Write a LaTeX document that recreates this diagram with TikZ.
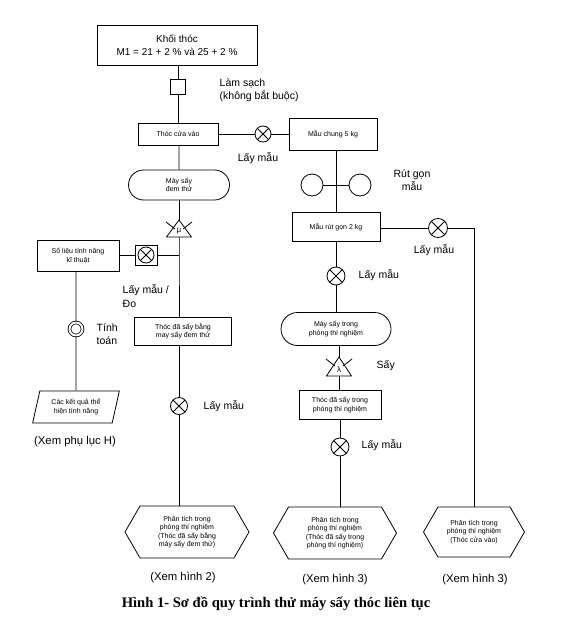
\documentclass[tikz,border=0pt]{standalone}
\usepackage{fontspec}
\setmainfont{Liberation Sans}
\newfontfamily\capfont{Liberation Serif}
\usetikzlibrary{shapes.geometric,shapes.misc,shapes.symbols}

\tikzset{
  small/.style={font=\fontsize{7}{8.5}\selectfont, align=center},
  stepbox/.style={draw, rectangle, small, inner sep=1pt},
  dryer/.style={draw, rounded rectangle, small, inner sep=1pt},
  lab/.style={font=\fontsize{10.5}{13.5}\selectfont, align=left},
  xemref/.style={font=\fontsize{11.3}{13}\selectfont},
  sample/.style={draw, circle, inner sep=0pt, minimum size=#1,
    path picture={\draw (path picture bounding box.north west) -- (path picture bounding box.south east)
      (path picture bounding box.south west) -- (path picture bounding box.north east);}},
  sample/.default=16pt,
  analysis/.style={draw, signal, signal to=west and east, signal pointer angle=120, small, inner sep=1pt},
}

\begin{document}
\begin{tikzpicture}[x=1pt,y=-1pt,line width=0.8pt]
    \useasboundingbox (0,0) rectangle (560,621);

    % cot thu nghiem
    \node[stepbox, minimum width=160pt, minimum height=40pt, font=\fontsize{10}{13}\selectfont] (khoi) at (177,45) {Khối thóc\\M1 = 21 + 2 \% và 25 + 2 \%};
    \node[draw, minimum size=15pt, inner sep=0pt] (lamsach) at (178,87) {};
    \node[lab, anchor=west] (lbllamsach) at (216,90) {Làm sạch\\(không bắt buộc)};
    \node[stepbox, minimum width=80pt, minimum height=22pt] (vao) at (178,134) {Thóc cửa vào};
    \node[dryer, minimum width=103pt, minimum height=30pt] (maydem) at (179,185) {Máy sấy\\đem thử};

    \draw (khoi.south -| lamsach) -- (lamsach);
    \draw (lamsach) -- (vao.north -| lamsach);
    \draw (vao.south -| maydem) -- (maydem);

    \coordinate (tri1) at (179,220);
    \coordinate (tri1b) at (179,237);
    \draw (tri1) -- ++(-12.5,17) -- ++(25,0) -- cycle;
    \draw (tri1) ++(-13,2) -- ++(9,7);
    \draw (tri1) ++(13,2) -- ++(-9,7);
    \node[font=\fontsize{8}{8}\selectfont] (mu) at (179,231) {μ};
    \draw (maydem.south -| tri1) -- (tri1);

    \coordinate (j1) at (179,255);
    \node[stepbox, minimum width=97pt, minimum height=28pt] (thocdem) at (183,331) {Thóc đã sấy bằng\\may sấy đem thử};
    \draw (tri1b) -- (j1) -- (j1 |- thocdem.north);

    \node[draw, minimum width=22pt, minimum height=20pt] (do) at (146,255) {};
    \node[sample=16pt] (dox) at (do) {};
    \node[stepbox, minimum width=82pt, minimum height=31pt] (solieu) at (78,256) {Số liệu tính năng\\kĩ thuật};
    \draw (j1) -- (do.east);
    \draw (do.west) -- (do -| solieu.east);
    \node[lab, anchor=west] at (119,296) {Lấy mẫu /\\Đo};

    \node[draw, circle, double, double distance=2pt, minimum size=13pt, inner sep=0pt] (tinh) at (76,329) {};
    \node[lab, anchor=west] at (93,334) {Tính\\toán};
    \node[draw, trapezium, trapezium left angle=74, trapezium right angle=106, trapezium stretches=true,
      minimum width=87pt, minimum height=32pt, small, inner sep=1pt] (ketqua) at (76,407) {Các kết quả thể\\hiện tính năng};
    \node[xemref] (xemH) at (75,442) {(Xem phụ lục H)};
    \draw (solieu.south -| tinh) -- (tinh) -- (ketqua.north);

    \node[sample=17pt] (lay2) at (179,406) {};
    \node[lab, anchor=west] at (200,406) {Lấy mẫu};
    \node[analysis, minimum width=124pt, minimum height=52pt] (hex1) at (187,532) {Phân tích trong\\phòng thí nghiệm\\(Thóc đã sấy bằng\\máy sấy đem thử)};
    \node[xemref] (xem2) at (183,578) {(Xem hình 2)};
    \draw (thocdem.south -| lay2) -- (lay2) -- (lay2 |- hex1.north);

    % cot phong thi nghiem
    \node[sample=16pt] (lay1) at (263,134) {};
    \node[stepbox, minimum width=88pt, minimum height=32pt] (chung) at (333,134) {Mẫu chung 5 kg};
    \draw (vao) -- (lay1) -- (chung);
    \node[lab] at (258,158) {Lấy mẫu};

    \coordinate (j2) at (336,185);
    \node[draw, circle, minimum size=22pt, inner sep=0pt] (rg1) at (312,185) {};
    \node[draw, circle, minimum size=22pt, inner sep=0pt] (rg2) at (360,185) {};
    \draw (rg1) -- (rg2);
    \node[lab, align=center] at (412,180) {Rút gọn\\mẫu};
    \node[stepbox, minimum width=88pt, minimum height=29pt] (rut) at (336,227) {Mẫu rút gọn 2 kg};
    \draw (chung.south -| j2) -- (rut.north -| j2);

    \node[sample=19pt] (lay3) at (438,228) {};
    \node[lab] at (434,250) {Lấy mẫu};
    \node[analysis, minimum width=101pt, minimum height=50pt] (hex3) at (474,532) {Phân tích trong\\phòng thí nghiệm\\(Thóc cửa vào)};
    \node[xemref] (xem3b) at (475,580) {(Xem hình 3)};
    \draw (rut.east |- lay3) -- (lay3) -- (lay3 -| hex3.north) -- (hex3.north);

    \node[sample=18pt] (lay4) at (336,276) {};
    \node[lab, anchor=west] at (355,275) {Lấy mẫu};
    \node[dryer, minimum width=112pt, minimum height=33pt] (mayptn) at (336,329) {Máy sấy trong\\phòng thí nghiệm};
    \draw (rut.south -| lay4) -- (lay4) -- (lay4 |- mayptn.north);

    \coordinate (tri2) at (339,357);
    \coordinate (tri2b) at (339,376);
    \draw (tri2) -- ++(-12.5,19) -- ++(25,0) -- cycle;
    \draw (tri2) ++(-13,2) -- ++(9,7);
    \draw (tri2) ++(13,2) -- ++(-9,7);
    \node[font=\fontsize{8}{8}\selectfont] (lam) at (339,370) {λ};
    \node[lab, anchor=west] at (373,366) {Sấy};
    \draw (mayptn.south -| tri2) -- (tri2);

    \node[stepbox, minimum width=82pt, minimum height=29pt] (thocptn) at (340,405) {Thóc đã sấy trong\\phòng thí nghiệm};
    \draw (tri2b) -- (tri2b |- thocptn.north);
    \node[sample=18pt] (lay5) at (340,447) {};
    \node[lab, anchor=west] at (358,445) {Lấy mẫu};
    \node[analysis, minimum width=123pt, minimum height=52pt] (hex2) at (335,533) {Phân tích trong\\phòng thí nghiệm\\(Thóc đã sấy trong\\phòng thí nghiệm)};
    \node[xemref] (xem3a) at (335,580) {(Xem hình 3)};
    \draw (thocptn.south -| lay5) -- (lay5) -- (lay5 |- hex2.north);

    \node[font=\capfont\bfseries\fontsize{14.6}{16}\selectfont] (hinh) at (276,604) {Hình 1- Sơ đồ quy trình thử máy sấy thóc liên tục};
\end{tikzpicture}
\end{document}
